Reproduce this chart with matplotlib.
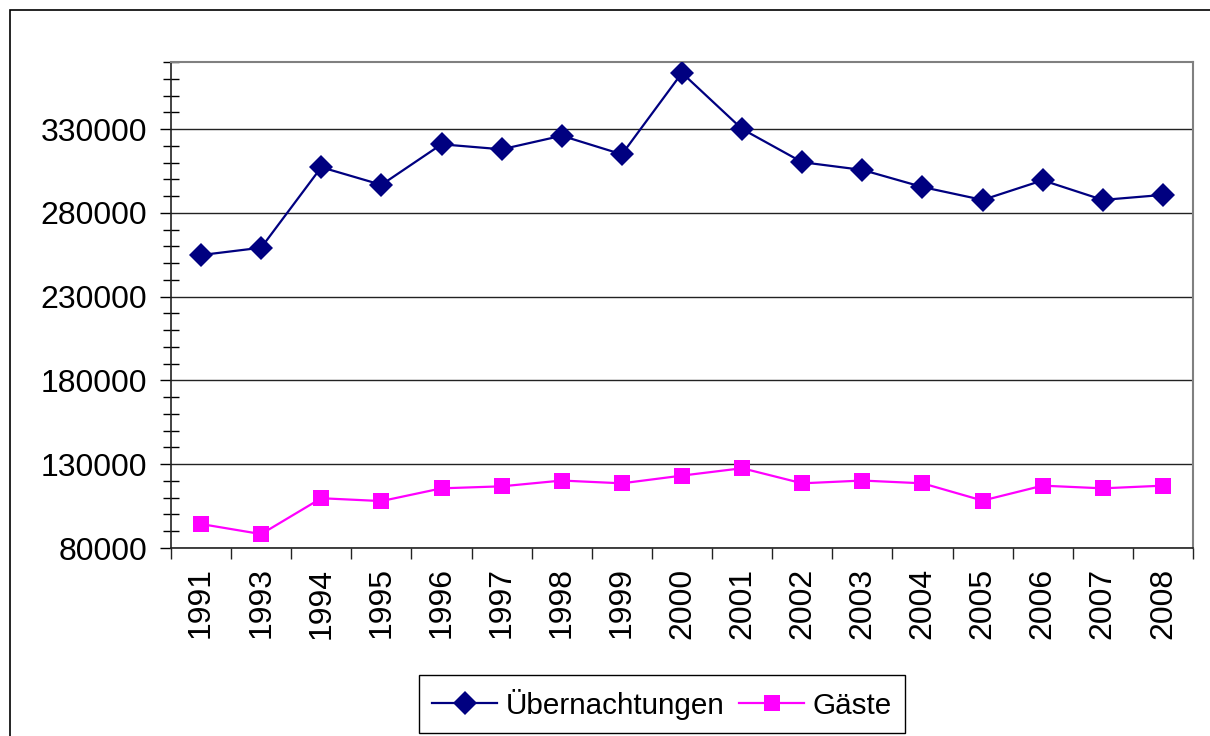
import matplotlib
matplotlib.use("Agg")
import matplotlib.pyplot as plt
from matplotlib.ticker import MultipleLocator, FixedLocator
from matplotlib.patches import Rectangle

years = ["1991", "1993", "1994", "1995", "1996", "1997", "1998", "1999", "2000",
         "2001", "2002", "2003", "2004", "2005", "2006", "2007", "2008"]
uebernachtungen = [254800, 259200, 307200, 296700, 320900, 317900, 326000, 314900, 363500,
                   330000, 310200, 305600, 295400, 287700, 299400, 287700, 290700]
gaeste = [94300, 88300, 109700, 108000, 115600, 116800, 120250, 118600, 123200,
          127600, 118600, 120250, 118600, 108300, 117200, 115600, 117200]

plt.rcParams['font.family'] = ['Liberation Sans', 'DejaVu Sans']

fig = plt.figure(figsize=(12.10, 7.36), dpi=100)
ax = fig.add_axes([171/1210, 1-548/736, (1193-171)/1210, (548-62)/736])

# outer chart border
fig.patches.append(Rectangle((10/1210, -0.1), 1.2, 1-10/736+0.1, transform=fig.transFigure,
                             fill=False, edgecolor='black', linewidth=1.2))

x = list(range(len(years)))
ax.plot(x, uebernachtungen, color='#000080', lw=1.6, marker='D', ms=12,
        markeredgewidth=0, label='Übernachtungen', zorder=3)
ax.plot(x, gaeste, color='#FF00FF', lw=1.6, marker='s', ms=11.5,
        markeredgewidth=0, label='Gäste', zorder=3)

ax.set_xlim(-0.5, len(years)-0.5)
ax.set_ylim(80000, 370000)
ax.yaxis.set_major_locator(FixedLocator([80000, 130000, 180000, 230000, 280000, 330000]))
ax.yaxis.set_minor_locator(MultipleLocator(10000))
ax.yaxis.grid(True, which='major', color='#222222', lw=1.0)
ax.set_axisbelow(True)

ax.xaxis.set_major_locator(FixedLocator([i - 0.5 for i in range(len(years)+1)]))
ax.xaxis.set_major_formatter(plt.NullFormatter())
ax.xaxis.set_minor_locator(FixedLocator(x))
ax.xaxis.set_minor_formatter(plt.FixedFormatter(years))
ax.tick_params(axis='x', which='major', direction='out', length=8, width=1.0, color='#222222')
ax.tick_params(axis='x', which='minor', length=0, labelsize=23, labelrotation=90, pad=14)
ax.tick_params(axis='y', which='major', direction='out', length=8, width=1.0, labelsize=23, pad=9)
ax.tick_params(axis='y', which='minor', direction='inout', length=11, width=1.0)

for s in ['top', 'right']:
    ax.spines[s].set_color('#808080')
    ax.spines[s].set_linewidth(1.5)
for s in ['left', 'bottom']:
    ax.spines[s].set_color('#222222')
    ax.spines[s].set_linewidth(1.2)

leg = fig.legend(loc='center', bbox_to_anchor=(662/1210, 1-704/736), ncol=2, fontsize=21.3,
                 frameon=True, fancybox=False, edgecolor='black', handlelength=2.2,
                 handletextpad=0.28, columnspacing=0.5, borderpad=0.45, framealpha=1)
leg.get_frame().set_linewidth(1.0)

fig.savefig('out.png', dpi=100)
